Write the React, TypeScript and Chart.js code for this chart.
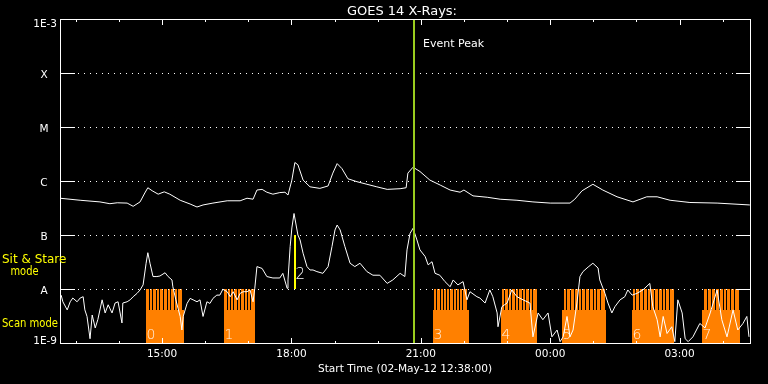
import React, { useEffect, useRef } from "react";
import { Chart, registerables } from "chart.js";

Chart.register(...registerables);

// ---- Time axis (hours since 00:00 02-May-12) ----
const startHour = 12 + 38 / 60; // 12:38
const endHour = startHour + 16; // 04:38 next day
const hourTicks = [13, 14, 15, 16, 17, 18, 19, 20, 21, 22, 23, 24, 25, 26, 27, 28];
const xLabelHours = [15, 18, 21, 24, 27];
const xLabelText = ["15:00", "18:00", "21:00", "00:00", "03:00"];

// ---- Flux axis ----
const yTickValues = [1e-9, 1e-8, 1e-7, 1e-6, 1e-5, 1e-4, 1e-3];
const yTickLabels = ["1E-9", "A", "B", "C", "M", "X", "1E-3"];

// ---- GOES 14 long channel (1-8 A) ----
const longTime = [
  12.63, 13.1, 13.56, 13.79, 13.96, 14.19, 14.33, 14.49, 14.6, 14.67, 14.77, 14.91, 15.05, 15.18,
  15.42, 15.65, 15.81, 15.95, 16.18, 16.51, 16.81, 16.97, 17.11, 17.2, 17.32, 17.43, 17.57, 17.73,
  17.85, 17.92, 18.01, 18.08, 18.15, 18.27, 18.43, 18.66, 18.85, 18.96, 19.06, 19.17, 19.31, 19.52,
  19.75, 19.98, 20.22, 20.52, 20.66, 20.7, 20.82, 20.98, 21.21, 21.45, 21.68, 21.91, 22.0, 22.21,
  22.54, 22.84, 23.23, 23.6, 24.0, 24.46, 24.57, 24.74, 24.99, 25.22, 25.55, 25.92, 26.24, 26.48,
  26.78, 27.24, 27.87, 28.63,
];
const longFlux = [
  4.8e-7, 4.4e-7, 4.1e-7, 3.8e-7, 3.95e-7, 3.9e-7, 3.4e-7, 4.1e-7, 6.0e-7, 7.5e-7, 6.6e-7, 5.7e-7, 6.3e-7, 5.7e-7,
  4.4e-7, 3.75e-7, 3.3e-7, 3.6e-7, 3.9e-7, 4.3e-7, 4.3e-7, 4.8e-7, 4.6e-7, 6.8e-7, 7.0e-7, 6.2e-7, 5.7e-7, 6.1e-7,
  6.2e-7, 5.5e-7, 1.04e-6, 2.2e-6, 2.0e-6, 1.04e-6, 7.8e-7, 7.3e-7, 8.1e-7, 1.4e-6, 2.1e-6, 1.7e-6, 1.1e-6, 9.7e-7,
  8.7e-7, 7.8e-7, 7.0e-7, 7.2e-7, 7.5e-7, 1.4e-6, 1.8e-6, 1.5e-6, 1.04e-6, 8.4e-7, 6.8e-7, 6.2e-7, 6.8e-7, 5.3e-7,
  5.0e-7, 4.6e-7, 4.4e-7, 4.1e-7, 3.9e-7, 3.9e-7, 4.6e-7, 6.6e-7, 8.7e-7, 6.8e-7, 5.1e-7, 4.1e-7, 5.1e-7, 5.1e-7,
  4.4e-7, 4.0e-7, 3.9e-7, 3.6e-7,
];

// ---- GOES 14 short channel (0.5-4 A) ----
const shortTime = [
  12.66, 12.7, 12.8, 12.87, 12.93, 13.03, 13.1, 13.17, 13.21, 13.26, 13.33, 13.38, 13.45, 13.51,
  13.61, 13.68, 13.75, 13.84, 13.91, 13.98, 14.07, 14.09, 14.19, 14.26, 14.33, 14.42, 14.49, 14.56,
  14.63, 14.67, 14.72, 14.79, 14.88, 14.95, 15.07, 15.14, 15.23, 15.25, 15.32, 15.37, 15.42, 15.46,
  15.49, 15.58, 15.65, 15.72, 15.81, 15.88, 15.95, 16.04, 16.11, 16.18, 16.27, 16.34, 16.41, 16.51,
  16.58, 16.65, 16.74, 16.81, 16.88, 16.97, 17.04, 17.11, 17.15, 17.2, 17.32, 17.43, 17.57, 17.73,
  17.8, 17.9, 17.92, 17.97, 18.01, 18.06, 18.15, 18.2, 18.27, 18.36, 18.43, 18.5, 18.59, 18.73,
  18.85, 18.94, 19.01, 19.06, 19.13, 19.24, 19.36, 19.47, 19.59, 19.75, 19.89, 20.05, 20.22, 20.35,
  20.52, 20.63, 20.68, 20.75, 20.82, 20.91, 20.98, 21.1, 21.17, 21.26, 21.33, 21.44, 21.56, 21.68,
  21.75, 21.86, 21.98, 22.07, 22.14, 22.3, 22.37, 22.49, 22.6, 22.67, 22.77, 22.79, 22.88, 23.0,
  23.11, 23.23, 23.37, 23.53, 23.6, 23.72, 23.83, 23.95, 24.04, 24.16, 24.23, 24.3, 24.39, 24.46,
  24.53, 24.62, 24.69, 24.76, 24.88, 24.99, 25.11, 25.15, 25.27, 25.34, 25.43, 25.5, 25.62, 25.73,
  25.8, 25.9, 26.01, 26.15, 26.31, 26.38, 26.48, 26.55, 26.62, 26.71, 26.82, 26.89, 26.96, 27.06,
  27.13, 27.2, 27.31, 27.47, 27.59, 27.71, 27.87, 27.98, 28.1, 28.24, 28.35, 28.47, 28.56, 28.61,
];
const shortFlux = [
  7.7e-9, 5.8e-9, 4.1e-9, 5.8e-9, 6.8e-9, 5.8e-9, 6.8e-9, 7.2e-9, 4.1e-9, 3.1e-9, 1.2e-9, 3.3e-9, 1.9e-9, 2.7e-9,
  6.3e-9, 3.6e-9, 5.1e-9, 3.6e-9, 5.5e-9, 5.8e-9, 2.35e-9, 5.5e-9, 5.8e-9, 6.3e-9, 7.2e-9, 8.3e-9, 9.6e-9, 1.19e-8,
  3.0e-8, 4.7e-8, 3.0e-8, 1.7e-8, 1.7e-8, 1.74e-8, 2.0e-8, 1.7e-8, 1.47e-8, 1.1e-8, 6.3e-9, 4.4e-9, 3.1e-9, 1.74e-9,
  3.1e-9, 5.4e-9, 6.7e-9, 6.3e-9, 5.8e-9, 6.3e-9, 3.1e-9, 5.8e-9, 5.4e-9, 6.7e-9, 7.7e-9, 7.7e-9, 9.9e-9, 8.9e-9,
  7.2e-9, 8.9e-9, 6.3e-9, 8.3e-9, 8.9e-9, 8.9e-9, 9.6e-9, 5.8e-9, 1.03e-8, 2.6e-8, 2.4e-8, 1.7e-8, 1.6e-8, 1.6e-8,
  1.95e-8, 1.03e-8, 1.47e-8, 6.1e-8, 1.35e-7, 2.5e-7, 1.0e-7, 8.1e-8, 4.6e-8, 2.6e-8, 2.25e-8, 2.25e-8, 2.1e-8, 1.95e-8,
  2.6e-8, 6.1e-8, 1.24e-7, 1.53e-7, 1.24e-7, 6.1e-8, 3.0e-8, 2.6e-8, 3.0e-8, 2.1e-8, 1.8e-8, 1.8e-8, 1.27e-8, 1.47e-8,
  1.95e-8, 1.7e-8, 5.3e-8, 1.07e-7, 1.33e-7, 8.1e-8, 5.3e-8, 4.0e-8, 2.8e-8, 3.2e-8, 1.95e-8, 1.8e-8, 1.37e-8, 1.1e-8,
  1.47e-8, 1.19e-8, 1.37e-8, 6.3e-9, 8.9e-9, 7.2e-9, 6.8e-9, 5.5e-9, 9.6e-9, 7.2e-9, 3.6e-9, 2.0e-9, 4.7e-9, 5.5e-9,
  9.6e-9, 7.2e-9, 6.3e-9, 5.5e-9, 1.3e-9, 3.6e-9, 2.7e-9, 3.6e-9, 1.3e-9, 1.74e-9, 1.06e-9, 1.3e-9, 3.1e-9, 1.3e-9,
  1.74e-9, 5.5e-9, 1.7e-8, 2.1e-8, 2.55e-8, 3.0e-8, 2.45e-8, 1.47e-8, 8.3e-9, 5.5e-9, 3.6e-9, 4.7e-9, 6.3e-9, 7.2e-9,
  9.6e-9, 7.7e-9, 8.3e-9, 9.6e-9, 1.27e-8, 4.7e-9, 2.7e-9, 1.3e-9, 3.1e-9, 1.5e-9, 2.0e-9, 1.06e-9, 6.3e-9, 3.6e-9,
  1.2e-9, 1.06e-9, 1.3e-9, 2.3e-9, 1.9e-9, 3.6e-9, 9.6e-9, 2.7e-9, 1.3e-9, 4.1e-9, 1.74e-9, 2.3e-9, 3.1e-9, 1.3e-9,
];

// ---- Event peak and observing modes ----
const eventPeakHour = 20.825;
const sitStareHour = 18.08;
const sitStareLow = 1e-8;
const sitStareHigh = 1e-7;
const sitStareLabel = "2";

const scanStart = [14.63, 16.44, 21.28, 22.86, 24.27, 25.89, 27.51];
const scanEnd = [15.51, 17.15, 22.12, 23.69, 25.29, 26.88, 28.4];
const rasterStart = [14.63, 16.44, 21.31, 22.88, 24.31, 25.91, 27.57];
const rasterEnd = [15.46, 17.15, 22.06, 23.69, 25.27, 26.87, 28.38];
const rasterCounts = [10, 9, 10, 10, 11, 11, 9];
const scanLabels = ["0", "1", "3", "4", "5", "6", "7"];
const scanBaseLevel = 1e-9;
const scanTopLevel = 4.1e-9;
const rasterTopLevel = 1e-8;

const FONT = "'DejaVu Sans'";
const ORANGE = "#ff8000";
const GREEN = "#9acd1e";
const YELLOW = "#ffff00";

const decorPlugin = {
  id: "decor",
  beforeDraw(chart: any) {
    const ctx = chart.ctx;
    ctx.save();
    ctx.fillStyle = "#000";
    ctx.fillRect(0, 0, chart.width, chart.height);
    ctx.restore();
  },
  beforeDatasetsDraw(chart: any) {
    const ctx = chart.ctx;
    const xs = chart.scales.x;
    const ys = chart.scales.y;
    const yBase = Math.round(ys.getPixelForValue(scanBaseLevel));
    const yScan = Math.round(ys.getPixelForValue(scanTopLevel));
    const yRaster = Math.round(ys.getPixelForValue(rasterTopLevel));
    ctx.save();
    ctx.fillStyle = ORANGE;
    for (let i = 0; i < scanStart.length; i++) {
      const x0 = Math.round(xs.getPixelForValue(scanStart[i]));
      const x1 = Math.round(xs.getPixelForValue(scanEnd[i]));
      ctx.fillRect(x0, yScan, x1 - x0, yBase - yScan);
      const s0 = xs.getPixelForValue(rasterStart[i]);
      const s1 = xs.getPixelForValue(rasterEnd[i]);
      const n = rasterCounts[i];
      const w = (s1 - s0) / n;
      for (let k = 0; k < n; k++) {
        const a = Math.round(s0 + k * w);
        const b = k === n - 1 ? Math.round(s1) : Math.round(s0 + (k + 1) * w) - 1;
        ctx.fillRect(a, yRaster, b - a, yScan - yRaster);
      }
    }
    // block numbers
    ctx.fillStyle = "#fff2e6";
    ctx.font = `200 14px ${FONT}`;
    ctx.textAlign = "left";
    ctx.textBaseline = "alphabetic";
    for (let i = 0; i < scanStart.length; i++) {
      const x0 = Math.round(xs.getPixelForValue(scanStart[i]));
      ctx.fillText(scanLabels[i], x0 + 0.5, 338.5);
    }
    // dotted grid
    ctx.strokeStyle = "#fff";
    ctx.lineWidth = 1;
    ctx.setLineDash([1, 5]);
    const ca = chart.chartArea;
    for (let i = 1; i < yTickValues.length - 1; i++) {
      const y = Math.round(ys.getPixelForValue(yTickValues[i])) + 0.5;
      ctx.beginPath();
      ctx.moveTo(ca.left + 18, y);
      ctx.lineTo(ca.right - 14, y);
      ctx.stroke();
    }
    ctx.restore();
  },
  afterDatasetsDraw(chart: any) {
    const ctx = chart.ctx;
    const xs = chart.scales.x;
    const ys = chart.scales.y;
    const ca = chart.chartArea;
    ctx.save();
    // Sit & stare bar
    const sx = Math.round(xs.getPixelForValue(sitStareHour));
    const sTop = Math.round(ys.getPixelForValue(sitStareHigh));
    const sBot = Math.round(ys.getPixelForValue(sitStareLow));
    ctx.fillStyle = YELLOW;
    ctx.fillRect(sx - 1, sTop, 2, sBot - sTop);
    ctx.fillStyle = "#fff";
    ctx.font = `200 15px ${FONT}`;
    ctx.textAlign = "left";
    ctx.textBaseline = "alphabetic";
    ctx.fillText(sitStareLabel, sx + 0.5, 278.5);

    // event peak line
    const ex = Math.round(xs.getPixelForValue(eventPeakHour));
    ctx.fillStyle = GREEN;
    ctx.fillRect(ex, ca.top, 2, ca.bottom - ca.top);
    ctx.fillStyle = "#fff";
    ctx.font = `11px ${FONT}`;
    ctx.fillText("Event Peak", ex + 10, 46.5);

    // frame
    ctx.strokeStyle = "#fff";
    ctx.lineWidth = 1;
    ctx.strokeRect(ca.left + 0.5, ca.top + 0.5, ca.right - ca.left, ca.bottom - ca.top);

    // y decade ticks
    ctx.beginPath();
    for (let i = 1; i < yTickValues.length - 1; i++) {
      const y = Math.round(ys.getPixelForValue(yTickValues[i])) + 0.5;
      ctx.moveTo(ca.left, y);
      ctx.lineTo(ca.left + 15, y);
      ctx.moveTo(ca.right - 14, y);
      ctx.lineTo(ca.right + 1, y);
    }
    // x hour ticks
    for (const h of hourTicks) {
      const x = Math.round(xs.getPixelForValue(h)) + 0.5;
      const len = xLabelHours.includes(h) ? 6 : 3;
      ctx.moveTo(x, ca.top);
      ctx.lineTo(x, ca.top + len);
      ctx.moveTo(x, ca.bottom + 1);
      ctx.lineTo(x, ca.bottom + 1 - len);
    }
    ctx.stroke();

    // y labels
    ctx.fillStyle = "#fff";
    ctx.font = `10.5px ${FONT}`;
    ctx.textBaseline = "alphabetic";
    for (let i = 0; i < yTickValues.length; i++) {
      const y = Math.round(ys.getPixelForValue(yTickValues[i]));
      const lab = yTickLabels[i];
      if (i === yTickValues.length - 1) {
        ctx.textAlign = "right";
        ctx.fillText(lab, 57, y + 8);
      } else if (i === 0) {
        ctx.textAlign = "right";
        ctx.fillText(lab, 57, y + 1);
      } else {
        ctx.textAlign = "center";
        ctx.fillText(lab, 44, y + 5);
      }
    }

    // title
    ctx.textAlign = "right";
    ctx.font = `13px ${FONT}`;
    ctx.fillText("GOES 14 X-Rays:", 457, 15);

    // mode labels
    ctx.fillStyle = YELLOW;
    ctx.textAlign = "left";
    ctx.font = `12px ${FONT}`;
    ctx.fillText("Sit & Stare", 2, 263, 65);
    ctx.textAlign = "center";
    ctx.fillText("mode", 24.5, 275, 28);
    ctx.textAlign = "left";
    ctx.fillText("Scan mode", 2, 327, 56);
    ctx.restore();
  },
};

export default function App() {
  const ref = useRef<HTMLCanvasElement>(null);
  useEffect(() => {
    if (!ref.current) return;
    const chart = new Chart(ref.current, {
      type: "line",
      data: {
        datasets: [
          {
            label: "1-8 A",
            data: longTime.map((t, i) => ({ x: t, y: longFlux[i] })),
            borderColor: "#fff",
            borderWidth: 1,
            pointRadius: 0,
            tension: 0,
            fill: false,
          },
          {
            label: "0.5-4 A",
            data: shortTime.map((t, i) => ({ x: t, y: shortFlux[i] })),
            borderColor: "#fff",
            borderWidth: 1,
            pointRadius: 0,
            tension: 0,
            fill: false,
          },
        ],
      },
      options: {
        responsive: false,
        animation: false,
        devicePixelRatio: 1,
        layout: { padding: { top: 19, right: 18, left: 0, bottom: 0 } },
        plugins: {
          legend: { display: false },
          tooltip: { enabled: false },
          title: { display: false },
        },
        scales: {
          x: {
            type: "linear",
            min: startHour,
            max: endHour,
            afterBuildTicks: (s: any) => {
              s.ticks = xLabelHours.map((v) => ({ value: v }));
            },
            afterFit: (s: any) => {
              s.height = 41;
            },
            grid: { display: false, drawTicks: false },
            border: { display: false },
            ticks: {
              color: "#fff",
              font: { family: "DejaVu Sans", size: 10.5 },
              padding: 5,
              maxRotation: 0,
              autoSkip: false,
              callback: (_v: any, i: number) => xLabelText[i],
            },
            title: {
              display: true,
              text: "Start Time (02-May-12 12:38:00)",
              color: "#fff",
              font: { family: "DejaVu Sans", size: 10.6 },
              padding: { top: 0, bottom: 8 },
            },
          },
          y: {
            type: "logarithmic",
            min: 1e-9,
            max: 1e-3,
            afterFit: (s: any) => {
              s.width = 60;
            },
            ticks: { display: false },
            grid: { display: false, drawTicks: false },
            border: { display: false },
          },
        },
      },
      plugins: [decorPlugin],
    } as any);
    return () => chart.destroy();
  }, []);
  return (
    <div style={{ position: "absolute", left: 0, top: 0, width: 768, height: 384, background: "#000" }}>
      <canvas ref={ref} width={768} height={384} style={{ display: "block", width: 768, height: 384 }} />
    </div>
  );
}
